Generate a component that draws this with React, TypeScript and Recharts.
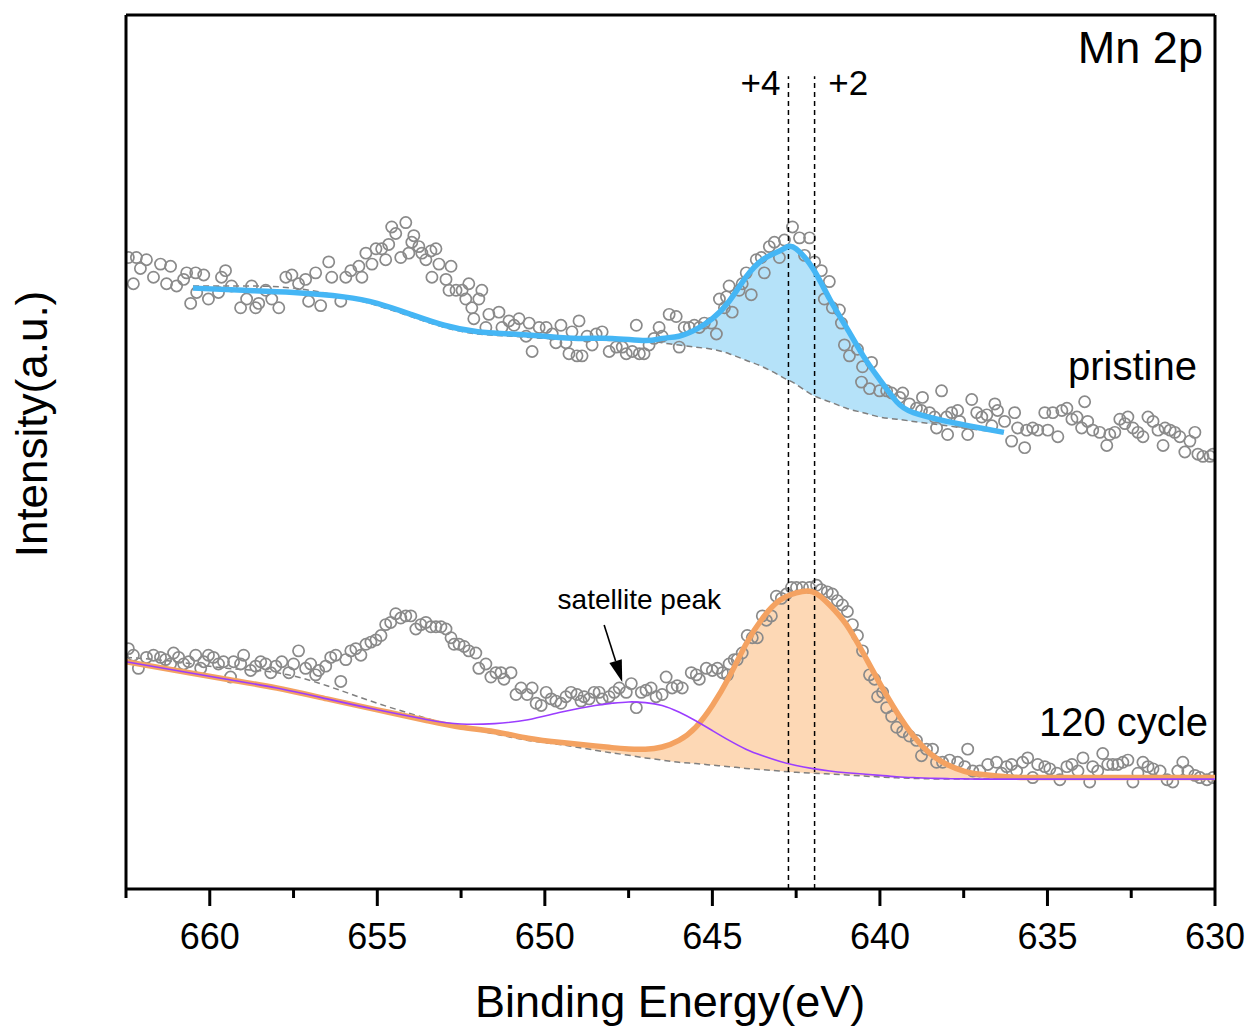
import React from "react";
import {
  ComposedChart,
  Line,
  Area,
  Scatter,
  XAxis,
  YAxis,
  ReferenceLine,
  ReferenceDot,
} from "recharts";

const FONT = "'Liberation Sans', Arial, Helvetica, sans-serif";

// raw spectra (binding energy, eV / intensity, a.u.)
const pristineEnergy = [
  662.43, 662.28, 662.19, 662.07, 661.89, 661.68, 661.47, 661.29, 661.17, 660.99,
  660.78, 660.69, 660.57, 660.42, 660.39, 660.18, 660.04, 659.74, 659.65, 659.53,
  659.35, 659.08, 658.9, 658.75, 658.63, 658.54, 658.33, 658.15, 657.94, 657.73,
  657.55, 657.35, 657.14, 657.05, 656.84, 656.69, 656.45, 656.36, 656.09, 655.94,
  655.79, 655.55, 655.46, 655.34, 655.16, 655.04, 654.87, 654.75, 654.66, 654.57,
  654.45, 654.3, 654.15, 654.06, 653.97, 653.91, 653.76, 653.67, 653.55, 653.4,
  653.37, 653.25, 653.16, 652.95, 652.86, 652.8, 652.65, 652.47, 652.36, 652.27,
  652.18, 652.12, 651.97, 651.88, 651.76, 651.67, 651.37, 651.28, 651.07, 650.92,
  650.77, 650.56, 650.47, 650.38, 650.17, 649.96, 649.78, 649.67, 649.52, 649.37,
  649.28, 649.19, 649.04, 648.98, 648.89, 648.74, 648.59, 648.47, 648.29, 648.08,
  647.87, 647.69, 647.57, 647.39, 647.27, 647.18, 647.04, 646.89, 646.74, 646.59,
  646.5, 646.29, 646.08, 645.99, 645.84, 645.69, 645.54, 645.39, 645.24, 645.03,
  644.88, 644.79, 644.64, 644.58, 644.5, 644.41, 644.2, 644.11, 643.99, 643.84,
  643.69, 643.54, 643.45, 643.3, 643.15, 643.0, 642.85, 642.61, 642.4, 642.25,
  642.1, 641.95, 641.75, 641.66, 641.51, 641.42, 641.21, 641.15, 641.06, 640.91,
  640.67, 640.55, 640.52, 640.31, 640.25, 640.01, 639.8, 639.65, 639.41, 639.32,
  639.12, 638.91, 638.76, 638.73, 638.52, 638.37, 638.31, 638.16, 638.01, 637.98,
  637.86, 637.68, 637.62, 637.38, 637.26, 637.11, 636.96, 636.81, 636.66, 636.57,
  636.49, 636.28, 636.07, 635.98, 635.89, 635.68, 635.62, 635.44, 635.29, 635.08,
  634.99, 634.84, 634.69, 634.57, 634.42, 634.27, 634.12, 633.98, 633.89, 633.8,
  633.65, 633.44, 633.23, 633.14, 632.99, 632.84, 632.69, 632.6, 632.45, 632.3,
  632.15, 632.0, 631.85, 631.7, 631.55, 631.49, 631.34, 631.2, 631.05, 630.9,
  630.75, 630.6, 630.51, 630.36, 630.15, 630.06,
];
const pristineIntensity = [
  2.89, 2.77, 2.89, 2.84, 2.88, 2.8, 2.86, 2.77, 2.85, 2.76,
  2.79, 2.82, 2.68, 2.82, 2.73, 2.81, 2.7, 2.73, 2.8, 2.83,
  2.76, 2.66, 2.7, 2.76, 2.66, 2.68, 2.74, 2.7, 2.66, 2.8,
  2.81, 2.77, 2.79, 2.69, 2.82, 2.67, 2.87, 2.8, 2.69, 2.8,
  2.83, 2.85, 2.8, 2.91, 2.86, 2.93, 2.93, 2.88, 2.95, 3.03,
  3.0, 2.89, 3.05, 2.91, 2.96, 2.99, 2.94, 2.91, 2.88, 2.92,
  2.8, 2.93, 2.86, 2.79, 2.74, 2.85, 2.74, 2.74, 2.7, 2.77,
  2.66, 2.61, 2.7, 2.74, 2.57, 2.63, 2.64, 2.57, 2.6, 2.58,
  2.61, 2.53, 2.59, 2.46, 2.57, 2.57, 2.54, 2.5, 2.58, 2.5,
  2.45, 2.55, 2.44, 2.6, 2.44, 2.53, 2.49, 2.54, 2.55, 2.46,
  2.48, 2.48, 2.45, 2.46, 2.58, 2.45, 2.45, 2.49, 2.52, 2.57,
  2.53, 2.63, 2.62, 2.48, 2.57, 2.57, 2.58, 2.57, 2.59, 2.59,
  2.54, 2.7, 2.66, 2.71, 2.76, 2.64, 2.74, 2.77, 2.82, 2.72,
  2.88, 2.89, 2.82, 2.94, 2.96, 2.89, 2.97, 3.03, 2.98, 2.9,
  2.98, 2.87, 2.83, 2.7, 2.78, 2.66, 2.65, 2.59, 2.49, 2.44,
  2.47, 2.32, 2.39, 2.29, 2.41, 2.28, 2.28, 2.27, 2.25, 2.27,
  2.22, 2.2, 2.19, 2.25, 2.18, 2.16, 2.11, 2.28, 2.16, 2.08,
  2.18, 2.19, 2.14, 2.08, 2.24, 2.18, 2.16, 2.17, 2.12, 2.22,
  2.19, 2.14, 2.05, 2.18, 2.11, 2.02, 2.1, 2.11, 2.1, 2.18,
  2.1, 2.18, 2.07, 2.19, 2.2, 2.15, 2.16, 2.11, 2.23, 2.14,
  2.1, 2.09, 2.03, 2.08, 2.09, 2.15, 2.13, 2.16, 2.11, 2.09,
  2.07, 2.16, 2.14, 2.1, 2.03, 2.11, 2.1, 2.09, 2.07, 2.0,
  2.05, 2.09, 1.99, 1.98, 1.98, 1.99,
];

const cycleEnergy = [
  662.43, 662.28, 662.13, 661.89, 661.68, 661.47, 661.32, 661.17, 661.08, 660.93,
  660.78, 660.63, 660.42, 660.27, 660.18, 660.04, 659.89, 659.74, 659.59, 659.38,
  659.29, 659.08, 658.99, 658.78, 658.63, 658.48, 658.33, 658.18, 658.03, 657.85,
  657.64, 657.5, 657.35, 657.14, 656.99, 656.84, 656.75, 656.54, 656.39, 656.24,
  656.09, 655.94, 655.79, 655.64, 655.49, 655.34, 655.19, 655.04, 654.89, 654.75,
  654.6, 654.45, 654.3, 654.15, 654.0, 653.85, 653.7, 653.55, 653.4, 653.25,
  653.1, 652.95, 652.8, 652.71, 652.56, 652.41, 652.27, 652.06, 651.97, 651.76,
  651.61, 651.46, 651.31, 651.22, 651.01, 650.86, 650.71, 650.53, 650.38, 650.26,
  650.11, 649.96, 649.81, 649.67, 649.52, 649.37, 649.22, 649.04, 648.92, 648.83,
  648.68, 648.53, 648.38, 648.29, 648.08, 647.93, 647.78, 647.57, 647.42, 647.27,
  647.12, 646.98, 646.83, 646.68, 646.5, 646.38, 646.2, 646.05, 645.9, 645.63,
  645.48, 645.39, 645.18, 645.0, 644.85, 644.7, 644.55, 644.5, 644.35, 644.26,
  644.11, 643.96, 643.81, 643.66, 643.51, 643.39, 643.24, 643.09, 642.94, 642.79,
  642.64, 642.49, 642.31, 642.1, 641.89, 641.75, 641.57, 641.42, 641.27, 641.12,
  640.97, 640.82, 640.67, 640.52, 640.31, 640.16, 640.07, 639.92, 639.8, 639.65,
  639.5, 639.32, 639.12, 638.91, 638.76, 638.61, 638.43, 638.31, 638.13, 637.92,
  637.68, 637.47, 637.38, 637.23, 637.02, 636.78, 636.52, 636.37, 636.22, 636.07,
  635.92, 635.74, 635.59, 635.44, 635.29, 635.08, 634.93, 634.72, 634.63, 634.42,
  634.27, 634.09, 633.94, 633.74, 633.65, 633.5, 633.35, 633.2, 633.05, 632.9,
  632.75, 632.6, 632.45, 632.3, 632.15, 632.0, 631.85, 631.64, 631.43, 631.26,
  631.11, 630.96, 630.81, 630.6, 630.45, 630.24, 630.06,
];
const cycleIntensity = [
  1.1, 1.07, 1.01, 1.06, 1.07, 1.06, 1.05, 1.03, 1.08, 1.06,
  1.03, 1.04, 1.07, 1.01, 1.04, 1.07, 1.06, 1.03, 1.04, 0.97,
  1.04, 1.03, 1.07, 1.0, 1.02, 1.04, 1.03, 0.99, 1.02, 1.04,
  0.99, 1.03, 1.09, 1.01, 1.03, 0.98, 1.0, 1.02, 1.06, 1.07,
  0.95, 1.05, 1.09, 1.1, 1.07, 1.12, 1.13, 1.14, 1.16, 1.21,
  1.22, 1.26, 1.24, 1.25, 1.25, 1.19, 1.21, 1.22, 1.2, 1.2,
  1.2, 1.19, 1.15, 1.12, 1.12, 1.11, 1.09, 1.08, 1.01, 1.03,
  0.97, 0.99, 0.99, 0.96, 0.99, 0.89, 0.92, 0.89, 0.92, 0.85,
  0.84, 0.9, 0.87, 0.86, 0.85, 0.88, 0.9, 0.89, 0.86, 0.88,
  0.87, 0.9, 0.9, 0.87, 0.88, 0.9, 0.92, 0.9, 0.94, 0.83,
  0.9, 0.91, 0.92, 0.88, 0.89, 0.97, 0.92, 0.93, 0.92, 0.99,
  0.98, 0.96, 1.01, 1.0, 1.01, 0.99, 0.98, 1.03, 1.05, 1.05,
  1.08, 1.16, 1.15, 1.15, 1.25, 1.23, 1.25, 1.34, 1.33, 1.35,
  1.38, 1.38, 1.38, 1.38, 1.39, 1.37, 1.36, 1.35, 1.32, 1.3,
  1.27, 1.21, 1.16, 1.09, 0.98, 0.96, 0.88, 0.9, 0.83, 0.79,
  0.74, 0.72, 0.7, 0.68, 0.61, 0.64, 0.64, 0.58, 0.58, 0.59,
  0.58, 0.56, 0.64, 0.54, 0.54, 0.57, 0.58, 0.53, 0.56, 0.57,
  0.54, 0.58, 0.6, 0.51, 0.57, 0.56, 0.55, 0.53, 0.5, 0.56,
  0.57, 0.54, 0.6, 0.49, 0.56, 0.54, 0.62, 0.57, 0.57, 0.57,
  0.58, 0.59, 0.49, 0.53, 0.58, 0.56, 0.55, 0.54, 0.5, 0.49,
  0.54, 0.58, 0.54, 0.52, 0.51, 0.5, 0.51,
];

// fitted curves, pristine
const pristineFitEnergy = [
  660.5, 659, 657.5, 656, 655, 654, 653, 652, 651, 650, 649, 648, 647, 646.5, 646,
  645.5, 645, 644.5, 644, 643.5, 643, 642.75, 642.5, 642, 641.5, 641, 640.5, 640,
  639.5, 639, 638, 637, 636.3,
];
const pristineFit = [
  2.75, 2.74, 2.73, 2.71, 2.68, 2.63, 2.58, 2.55, 2.54, 2.53, 2.52, 2.52, 2.51, 2.52, 2.53,
  2.56, 2.61, 2.69, 2.8, 2.88, 2.92, 2.94, 2.93, 2.84, 2.7, 2.57, 2.44, 2.33,
  2.23, 2.18, 2.14, 2.11, 2.09,
];
const pristineBackground = [
  2.76, 2.76, 2.75, 2.71, 2.67, 2.62, 2.57, 2.54, 2.53, 2.52, 2.52, 2.51, 2.51, 2.5, 2.49,
  2.48, 2.47, 2.45, 2.42, 2.39, 2.35, 2.33, 2.31, 2.26, 2.23, 2.2, 2.18, 2.16,
  2.15, 2.14, 2.12, 2.1, 2.09,
];

// fitted curves, 120 cycle
const cycleFitEnergy = [
  662.5, 661, 659.5, 658, 656.5, 655, 653.5, 652.5, 651.5, 650.5, 649.5, 648.5, 648, 647.5,
  647, 646.5, 646, 645.5, 645, 644.5, 644, 643.5, 643, 642.5, 642, 641.5, 641, 640.5,
  640, 639.5, 639, 638.5, 638, 637.5, 637, 636, 635, 633, 631, 630,
];
const cycleFit = [
  1.04, 1.0, 0.96, 0.92, 0.87, 0.82, 0.77, 0.74, 0.72, 0.69, 0.67, 0.655, 0.647, 0.641,
  0.64, 0.65, 0.68, 0.74, 0.84, 0.97, 1.12, 1.24, 1.32, 1.355, 1.36, 1.3, 1.21, 1.08,
  0.94, 0.81, 0.7, 0.62, 0.57, 0.54, 0.525, 0.512, 0.51, 0.51, 0.51, 0.51,
];
const cycleSatellite = [
  1.04, 1.0, 0.96, 0.92, 0.87, 0.82, 0.775, 0.755, 0.757, 0.775, 0.81, 0.84, 0.85, 0.856,
  0.853, 0.84, 0.81, 0.77, 0.725, 0.68, 0.64, 0.61, 0.585, 0.565, 0.551, 0.54, 0.532, 0.526,
  0.52, 0.514, 0.51, 0.507, 0.505, 0.504, 0.503, 0.503, 0.503, 0.503, 0.503, 0.503,
];
const cycleBackground = [
  1.06, 1.04, 1.01, 0.99, 0.93, 0.85, 0.78, 0.74, 0.71, 0.68, 0.66, 0.635, 0.623, 0.612,
  0.6, 0.59, 0.58, 0.574, 0.567, 0.56, 0.552, 0.546, 0.54, 0.534, 0.53, 0.526, 0.522, 0.517,
  0.513, 0.509, 0.506, 0.504, 0.503, 0.503, 0.503, 0.503, 0.503, 0.503, 0.503, 0.503,
];

const xTicks = [662.5, 660, 657.5, 655, 652.5, 650, 647.5, 645, 642.5, 640, 637.5, 635, 632.5, 630];
const yTicks = [0, 1, 2, 3];
const oxidation = [642.73, 641.95];

const pristinePoints = pristineEnergy.map((e, k) => ({ e, i: pristineIntensity[k] }));
const cyclePoints = cycleEnergy.map((e, k) => ({ e, i: cycleIntensity[k] }));
const pristineRows = pristineFitEnergy.map((e, k) => ({
  e,
  fit: pristineFit[k],
  bg: pristineBackground[k],
  band: [pristineBackground[k], pristineFit[k]],
}));
const cycleRows = cycleFitEnergy.map((e, k) => ({
  e,
  fit: cycleFit[k],
  sat: cycleSatellite[k],
  bg: cycleBackground[k],
  band: [cycleBackground[k], cycleFit[k]],
}));

// text placed in data coordinates
const notes = [
  { e: 630.36, v: 3.85, text: "Mn 2p", anchor: "end", size: 45 },
  { e: 642.97, v: 3.69, text: "+4", anchor: "end", size: 35 },
  { e: 641.54, v: 3.69, text: "+2", anchor: "start", size: 35 },
  { e: 630.54, v: 2.394, text: "pristine", anchor: "end", size: 40 },
  { e: 630.21, v: 0.764, text: "120 cycle", anchor: "end", size: 40 },
  { e: 647.18, v: 1.323, text: "satellite peak", anchor: "middle", size: 28 },
  { e: 646.26, v: -0.517, text: "Binding Energy(eV)", anchor: "middle", size: 45 },
  { e: 665.33, v: 2.128, text: "Intensity(a.u.)", anchor: "middle", size: 44, rotate: true },
];

function Note({ viewBox, text, anchor, size, rotate }: any) {
  const { x, y } = viewBox;
  return (
    <text
      x={x}
      y={y}
      textAnchor={anchor}
      dominantBaseline="central"
      fontSize={size}
      fontFamily={FONT}
      fill="#000"
      transform={rotate ? `rotate(-90 ${x} ${y})` : undefined}
    >
      {text}
    </text>
  );
}

function XTick({ x, y, payload }: any) {
  const major = payload.value % 5 === 0;
  return (
    <g>
      <line x1={x} y1={y} x2={x} y2={y + (major ? 17 : 9)} stroke="#000" strokeWidth={3} />
      {major && (
        <text x={x} y={y + 47} textAnchor="middle" dominantBaseline="central" fontSize={36} fontFamily={FONT} fill="#000">
          {payload.value}
        </text>
      )}
    </g>
  );
}

function Arrow({ x1, y1, x2, y2 }: any) {
  const a = Math.atan2(y2 - y1, x2 - x1);
  const len = 22;
  const half = 6.5;
  const bx = x2 - len * Math.cos(a);
  const by = y2 - len * Math.sin(a);
  const px = -Math.sin(a) * half;
  const py = Math.cos(a) * half;
  return (
    <g>
      <line x1={x1} y1={y1} x2={bx} y2={by} stroke="#000" strokeWidth={1.6} />
      <polygon points={`${x2},${y2} ${bx + px},${by + py} ${bx - px},${by - py}`} fill="#000" />
    </g>
  );
}

const ring = (p: any) => (
  <circle cx={p.cx} cy={p.cy} r={5.6} fill="none" stroke="#8a8a8a" strokeWidth={1.7} />
);

export default function App() {
  return (
    <div style={{ width: 1252, height: 1030, background: "#fff" }}>
      <style>{`body{margin:0}`}</style>
      <ComposedChart width={1252} height={1030} margin={{ top: 15, right: 37, bottom: 0, left: 0 }}>
        <XAxis
          type="number"
          dataKey="e"
          domain={[630, 662.5]}
          reversed
          allowDataOverflow
          ticks={xTicks}
          interval={0}
          tickSize={0}
          tickMargin={0}
          tickLine={false}
          tick={<XTick />}
          axisLine={{ stroke: "#000", strokeWidth: 3 }}
          height={141}
        />
        <YAxis
          type="number"
          domain={[0, 4]}
          allowDataOverflow
          ticks={yTicks}
          interval={0}
          tick={false}
          tickSize={10}
          tickLine={{ stroke: "#000", strokeWidth: 3 }}
          axisLine={{ stroke: "#000", strokeWidth: 3 }}
          width={126}
        />

        <Area
          data={pristineRows.filter((r) => r.e <= 646.5)}
          dataKey="band"
          type="natural"
          fill="#b5e2f9"
          fillOpacity={1}
          stroke="none"
          isAnimationActive={false}
          zIndex={100}
        />
        <Area
          data={cycleRows.filter((r) => r.e <= 652)}
          dataKey="band"
          type="natural"
          fill="#fdd8b5"
          fillOpacity={1}
          stroke="none"
          isAnimationActive={false}
          zIndex={100}
        />
        <Line data={pristineRows} dataKey="bg" type="natural" stroke="#7f7f7f" strokeWidth={1.5}
          strokeDasharray="6 4" dot={false} activeDot={false} isAnimationActive={false} zIndex={200} />
        <Line data={cycleRows} dataKey="bg" type="natural" stroke="#7f7f7f" strokeWidth={1.5}
          strokeDasharray="6 4" dot={false} activeDot={false} isAnimationActive={false} zIndex={200} />

        <Scatter data={pristinePoints} dataKey="i" shape={ring} isAnimationActive={false} zIndex={300} />
        <Scatter data={cyclePoints} dataKey="i" shape={ring} isAnimationActive={false} zIndex={300} />

        <Line data={cycleRows} dataKey="fit" type="natural" stroke="#f4a261" strokeWidth={5.5}
          dot={false} activeDot={false} isAnimationActive={false} zIndex={450} />
        <Line data={cycleRows} dataKey="sat" type="natural" stroke="#9b3dff" strokeWidth={1.6}
          dot={false} activeDot={false} isAnimationActive={false} zIndex={460} />
        <Line data={pristineRows} dataKey="fit" type="natural" stroke="#45b6f5" strokeWidth={5.5}
          dot={false} activeDot={false} isAnimationActive={false} zIndex={450} />

        {oxidation.map((e) => (
          <ReferenceLine
            key={e}
            segment={[{ x: e, y: 0 }, { x: e, y: 3.72 }]}
            stroke="#000"
            strokeWidth={1.5}
            strokeDasharray="5 4"
            ifOverflow="visible"
          />
        ))}
        <ReferenceLine y={4} stroke="#000" strokeWidth={3} ifOverflow="visible" />
        <ReferenceLine x={630} stroke="#000" strokeWidth={3} ifOverflow="visible" />
        <ReferenceLine
          segment={[{ x: 648.23, y: 1.208 }, { x: 647.69, y: 0.947 }]}
          shape={<Arrow />}
          ifOverflow="visible"
        />
        {notes.map((n) => (
          <ReferenceDot
            key={n.text}
            x={n.e}
            y={n.v}
            r={0}
            stroke="none"
            fill="none"
            ifOverflow="visible"
            label={<Note text={n.text} anchor={n.anchor} size={n.size} rotate={n.rotate} />}
          />
        ))}
      </ComposedChart>
    </div>
  );
}
